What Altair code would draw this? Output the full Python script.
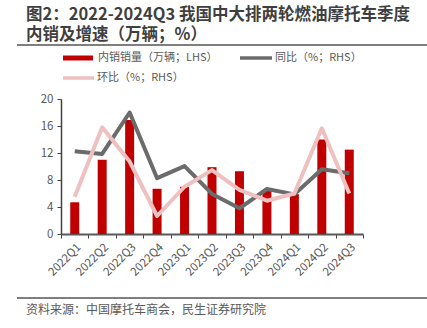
import altair as alt
import pandas as pd

quarters = ["2022Q1","2022Q2","2022Q3","2022Q4","2023Q1","2023Q2","2023Q3","2023Q4","2024Q1","2024Q2","2024Q3"]
sales = [4.7, 11.0, 16.9, 6.7, 7.0, 9.9, 9.3, 6.4, 5.9, 14.0, 12.5]
yoy = [84, 78, 170, 24, 51, -11, -43, 0, -12, 44, 35]
qoq = [-17, 137, 61, -60, 5, 42, -2, -26, -10, 135, -10]

title_lines = ["图2：2022-2024Q3  我国中大排两轮燃油摩托车季度", "内销及增速（万辆；%）"]
source = "资料来源：中国摩托车商会，民生证券研究院"
leg_bar = "内销销量（万辆；LHS）"
leg_yoy = "同比（%；RHS）"
leg_qoq = "环比（%；RHS）"

df = pd.DataFrame({"q": quarters, "sales": sales, "yoy": yoy, "qoq": qoq})

FONT = "Noto Sans CJK SC"
GRAY_TXT = "#595959"

xenc = alt.X("q:N", sort=quarters, title=None,
             scale=alt.Scale(paddingInner=0, paddingOuter=0),
             axis=alt.Axis(labelAngle=-45, labelFont=FONT, labelFontSize=11.5,
                           labelColor=GRAY_TXT, tickBand="extent", domainColor="#595959",
                           domainWidth=2, tickColor="#404040", tickSize=4, labelPadding=3))

bars = alt.Chart(df).mark_bar(color="#C00000", size=9).encode(
    x=xenc,
    y=alt.Y("sales:Q", title=None,
            scale=alt.Scale(domain=[0, 20], nice=False),
            axis=alt.Axis(orient="left", values=[0, 4, 8, 12, 16, 20], grid=False,
                          labelFont=FONT, labelFontSize=11.5, labelColor=GRAY_TXT,
                          domainColor="#404040", tickColor="#404040", tickSize=4,
                          domainWidth=1.5, labelPadding=4))
)

line_yoy = alt.Chart(df).mark_line(color="#6B6B6B", strokeWidth=4, strokeJoin="round").encode(
    x=alt.X("q:N", sort=quarters),
    y=alt.Y("yoy:Q", title=None, scale=alt.Scale(domain=[-100, 200], nice=False),
            axis=alt.Axis(orient="right", values=[-100, -40, 20, 80, 140, 200], grid=False,
                          labelExpr="datum.value + '%'",
                          labelFont=FONT, labelFontSize=11.5, labelColor=GRAY_TXT,
                          domainColor="#202020", tickColor="#202020", tickSize=4,
                          domainWidth=1.5, labelPadding=4))
)
line_qoq = alt.Chart(df).mark_line(color="#EFC0C0", strokeWidth=4, strokeJoin="round").encode(
    x=alt.X("q:N", sort=quarters),
    y=alt.Y("qoq:Q", scale=alt.Scale(domain=[-100, 200], nice=False), axis=None)
)

lines = alt.layer(line_yoy, line_qoq)

one = alt.Data(values=[{}])

def txt(t, x, y, size, color, weight="normal", lh=None):
    kw = {}
    if lh is not None:
        kw["lineHeight"] = lh
    return alt.Chart(one).mark_text(text=t, font=FONT, fontSize=size, color=color,
                                    fontWeight=weight, align="left", baseline="middle", **kw).encode(
        x=alt.value(x), y=alt.value(y))

def rule(x1, x2, y, color, w):
    return alt.Chart(one).mark_rule(color=color, strokeWidth=w).encode(
        x=alt.value(x1), x2=alt.value(x2), y=alt.value(y))

deco = alt.layer(
    txt(title_lines, -35, -84, 16.5, "#3F3F3F", "bold", lh=20),
    rule(-44, 366, -54, "#7F7F7F", 2),
    rule(-44, 366, 199, "#7F7F7F", 2),
    txt(source, -35, 211, 12, GRAY_TXT),
    rule(2, 32, -41, "#C00000", 5),
    txt(leg_bar, 37, -41, 11, GRAY_TXT),
    rule(179, 211, -41, "#6B6B6B", 3.5),
    txt(leg_yoy, 214, -41, 11, GRAY_TXT),
    rule(2, 33, -21, "#EFC0C0", 3.5),
    txt(leg_qoq, 36, -21, 11, GRAY_TXT),
)

chart = alt.layer(bars, lines, deco).resolve_scale(y="independent").properties(
    width=302, height=135,
    autosize=alt.AutoSizeParams(type="none"),
    padding={"left": 61, "top": 99, "right": 64, "bottom": 94},
    background="white",
).configure_view(stroke=None)

chart.save("out.html", embed_options={"renderer": "svg", "actions": False})
